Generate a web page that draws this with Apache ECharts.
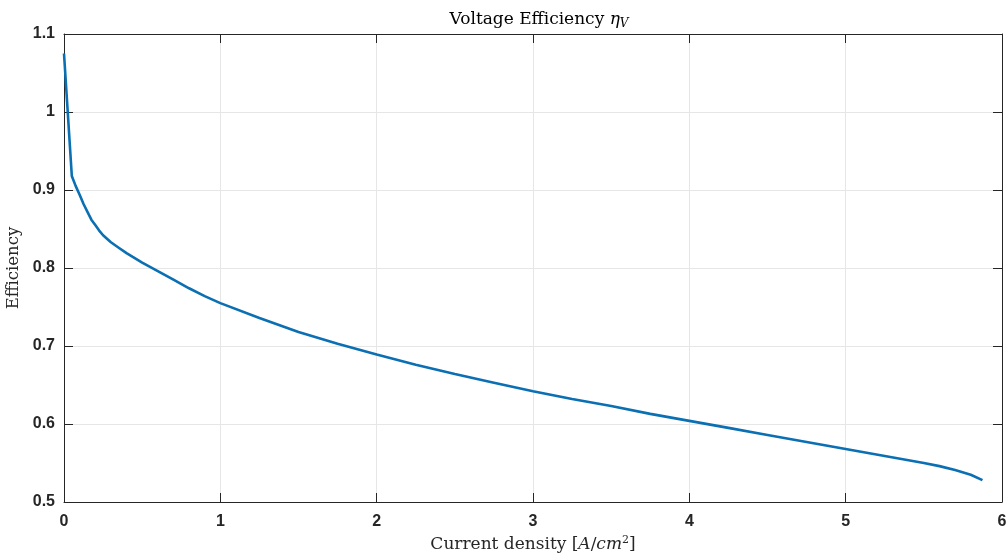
<!DOCTYPE html>
<html>
<head>
<meta charset="utf-8">
<script src="https://cdn.jsdelivr.net/npm/echarts@6/dist/echarts.min.js"></script>
<style>html,body{margin:0;padding:0;background:#fff}#c{width:1007px;height:558px}</style>
</head>
<body>
<div id="c"></div>
<script>
const currentDensity = [0, 0.05, 0.075, 0.1, 0.125, 0.15, 0.175, 0.2, 0.225, 0.25, 0.3, 0.35, 0.4, 0.45, 0.5, 0.6, 0.7, 0.8, 0.9, 1.0, 1.25, 1.5, 1.75, 2.0, 2.25, 2.5, 2.75, 3.0, 3.25, 3.5, 3.75, 4.0, 4.25, 4.5, 4.75, 5.0, 5.25, 5.5, 5.6, 5.7, 5.8, 5.875];
const efficiency = [1.075, 0.918, 0.905, 0.894, 0.882, 0.872, 0.862, 0.855, 0.848, 0.842, 0.833, 0.826, 0.819, 0.813, 0.807, 0.796, 0.785, 0.774, 0.764, 0.755, 0.736, 0.718, 0.703, 0.689, 0.676, 0.664, 0.653, 0.642, 0.632, 0.623, 0.613, 0.604, 0.595, 0.586, 0.577, 0.568, 0.559, 0.550, 0.546, 0.541, 0.535, 0.528];
const xTicks = {min: 0, max: 6, interval: 1};
const yTicks = {min: 0.5, max: 1.1, interval: 0.1};

const chart = echarts.init(document.getElementById('c'), null, {renderer: 'canvas'});
const serif = 'DejaVu Serif, Liberation Serif, serif';
const sans = 'Liberation Sans, Arial, sans-serif';
const axisCol = '#262626';
const gridCol = '#e6e6e6';
const tickLabel = {color: axisCol, fontFamily: sans, fontWeight: 'bold', fontSize: 16};

const pts = currentDensity.map((x, i) => [x, efficiency[i]]);

chart.setOption({
  animation: false,
  backgroundColor: '#fff',
  title: {
    text: 'Voltage Efficiency {i|η}{sub|V}',
    left: 534, textAlign: 'center', top: 4,
    textStyle: {
      fontFamily: serif, fontWeight: 'normal', fontSize: 17, color: '#000',
      rich: {
        i: {fontFamily: serif, fontStyle: 'italic', fontSize: 17, color: '#000'},
        sub: {fontFamily: serif, fontStyle: 'italic', fontSize: 12, color: '#000', padding: [9, 0, 0, 0]}
      }
    }
  },
  grid: {left: 64, right: 5, top: 34, bottom: 56, containLabel: false, outerBoundsMode: 'none'},
  xAxis: [{
    type: 'value', min: xTicks.min, max: xTicks.max, interval: xTicks.interval,
    name: 'Current density [{i|A}/{i|cm}{s|2}]',
    nameLocation: 'middle', nameGap: 32,
    nameTextStyle: {
      fontFamily: serif, fontSize: 17, color: '#262626',
      rich: {
        i: {fontFamily: serif, fontStyle: 'italic', fontSize: 17, color: '#262626'},
        s: {fontFamily: serif, fontSize: 11, color: '#262626', padding: [0, 0, 8, 0]}
      }
    },
    axisLine: {show: true, onZero: false, lineStyle: {color: axisCol, width: 1}},
    axisTick: {show: true, inside: true, length: 9, lineStyle: {color: axisCol}},
    axisLabel: Object.assign({margin: 12, formatter: v => String(+v.toFixed(1))}, tickLabel),
    splitLine: {show: true, lineStyle: {color: gridCol, width: 1}}
  }, {
    type: 'value', position: 'top', min: xTicks.min, max: xTicks.max, interval: xTicks.interval,
    axisLine: {show: true, onZero: false, lineStyle: {color: axisCol, width: 1}},
    axisTick: {show: true, inside: true, length: 9, lineStyle: {color: axisCol}},
    axisLabel: {show: false}, splitLine: {show: false}
  }],
  yAxis: [{
    type: 'value', min: yTicks.min, max: yTicks.max, interval: yTicks.interval,
    name: 'Efficiency', nameLocation: 'middle', nameGap: 39, nameRotate: 90,
    nameTextStyle: {fontFamily: serif, fontSize: 16.5, color: '#262626'},
    axisLine: {show: true, onZero: false, lineStyle: {color: axisCol, width: 1}},
    axisTick: {show: true, inside: true, length: 9, lineStyle: {color: axisCol}},
    axisLabel: Object.assign({margin: 9, formatter: v => String(+v.toFixed(1))}, tickLabel),
    splitLine: {show: true, lineStyle: {color: gridCol, width: 1}}
  }, {
    type: 'value', position: 'right', min: yTicks.min, max: yTicks.max, interval: yTicks.interval,
    axisLine: {show: true, onZero: false, lineStyle: {color: axisCol, width: 1}},
    axisTick: {show: true, inside: true, length: 9, lineStyle: {color: axisCol}},
    axisLabel: {show: false}, splitLine: {show: false}
  }],
  series: [{
    type: 'line', data: pts, showSymbol: false, symbol: 'none', smooth: false,
    lineStyle: {color: '#0b6fb3', width: 2.6}, z: 5
  }]
});
</script>
</body>
</html>
